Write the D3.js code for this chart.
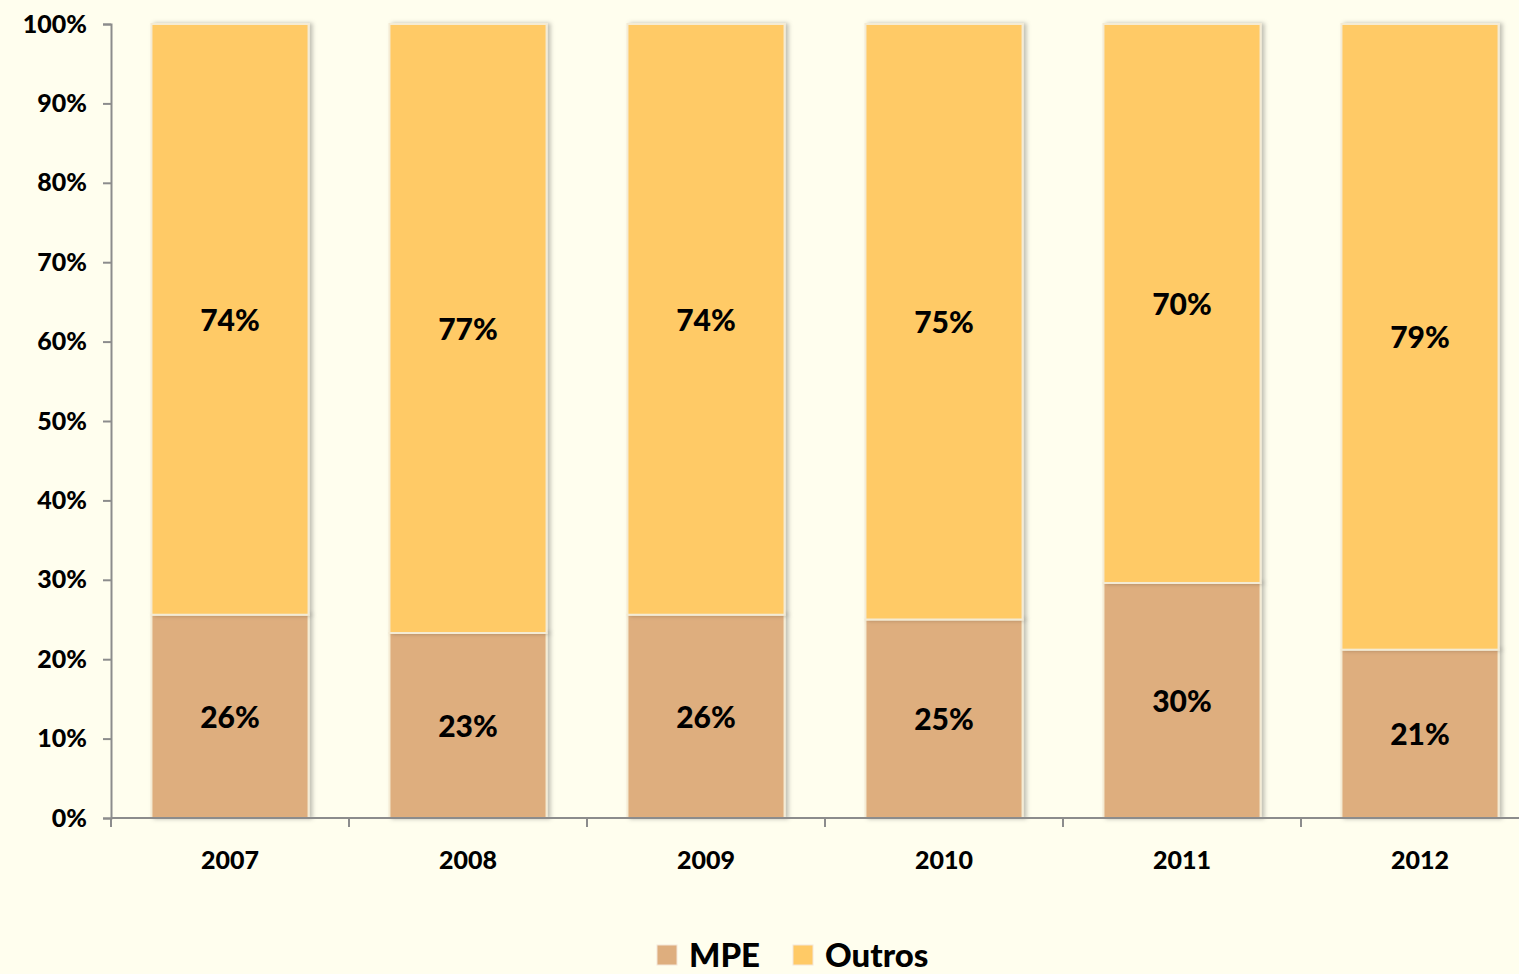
<!DOCTYPE html>
<html><head><meta charset="utf-8">
<script src="https://cdn.jsdelivr.net/npm/d3@7"></script>
<style>
html,body{margin:0;padding:0;background:#FFFEEE;overflow:hidden;}
svg{display:block;font-family:Lato,"Open Sans",sans-serif;font-weight:900;}
</style></head><body>
<svg id="c" width="1519" height="974"></svg>
<script>
const years = ["2007","2008","2009","2010","2011","2012"];
const mpe = [25.6, 23.3, 25.6, 25.0, 29.6, 21.2];
const outros = [74.4, 76.7, 74.4, 75.0, 70.4, 78.8];
const seriesNames = ["MPE","Outros"];
const colors = ["#DEAE7E","#FFCA66"];
const yTicks = [0,10,20,30,40,50,60,70,80,90,100];

(function(){
const svg = d3.select("#c");
const mLeft = 111, mRight = 1539, mTop = 24, mBottom = 818;
const x = d3.scaleBand().domain(years).range([mLeft, mRight]).paddingInner(0.34).paddingOuter(0.17);
const xb = d3.scaleBand().domain(years).range([mLeft, mRight]);
const y = d3.scaleLinear().domain([0,100]).range([mBottom, mTop]);

const rows = years.map((yr,i)=>({year:yr, MPE:mpe[i], Outros:outros[i]}));
const stacked = d3.stack().keys(seriesNames)(rows);

const defs = svg.append("defs");
const f = defs.append("filter").attr("id","sh").attr("x","-10%").attr("y","-5%").attr("width","130%").attr("height","115%");
f.append("feDropShadow").attr("dx",3).attr("dy",0).attr("stdDeviation",2).attr("flood-color","#000").attr("flood-opacity",0.25);

stacked.forEach((s,si)=>{
  const g = svg.append("g").attr("filter","url(#sh)");
  g.selectAll("rect").data(s).join("rect")
    .attr("x", d=>x(d.data.year))
    .attr("width", x.bandwidth())
    .attr("y", d=>y(d[1]))
    .attr("height", d=>y(d[0])-y(d[1]))
    .attr("fill", colors[si])
    .attr("stroke", "#F4EBD4")
    .attr("stroke-width", 2);
});
stacked.forEach((s,si)=>{
  svg.append("g").selectAll("text").data(s).join("text")
    .attr("x", d=>x(d.data.year)+x.bandwidth()/2)
    .attr("y", d=>(y(d[0])+y(d[1]))/2)
    .attr("dy","0.38em")
    .attr("text-anchor","middle")
    .attr("font-size",30)
    .attr("fill","#000")
    .text(d=>d3.format(".0f")(d[1]-d[0])+"%");
});

const yAxis = d3.axisLeft(y).tickValues(yTicks).tickFormat(d=>d+"%").tickSize(8).tickPadding(16);
const ya = svg.append("g").attr("transform",`translate(${mLeft},0)`).call(yAxis);
ya.select(".domain").attr("stroke","#8C8C8C").attr("stroke-width",2);
ya.selectAll(".tick line").attr("stroke","#8C8C8C").attr("stroke-width",2);
ya.selectAll(".tick text").attr("font-size",25).attr("font-family","Lato,sans-serif").attr("font-weight",900).attr("fill","#000");

const xAxis = d3.axisBottom(xb).tickSize(0).tickPadding(33);
const xa = svg.append("g").attr("transform",`translate(0,${mBottom})`).call(xAxis);
xa.select(".domain").attr("stroke","#8C8C8C").attr("stroke-width",2).attr("d",`M${mLeft},0H${mRight}`);
xa.selectAll(".tick text").attr("font-size",25).attr("font-family","Lato,sans-serif").attr("font-weight",900).attr("fill","#000");
xa.selectAll("line.bt").data(years).join("line").attr("class","bt")
  .attr("x1",d=>xb(d)).attr("x2",d=>xb(d)).attr("y1",0).attr("y2",9)
  .attr("stroke","#8C8C8C").attr("stroke-width",2);

const legX = [657, 793];
const lg = svg.append("g");
seriesNames.forEach((n,i)=>{
  lg.append("rect").attr("x",legX[i]).attr("y",945).attr("width",20).attr("height",20)
    .attr("fill",colors[i]).attr("stroke","#F4E6D8").attr("stroke-width",1);
  lg.append("text").attr("x",legX[i]+32).attr("y",967).attr("font-size",33)
    .attr("fill","#000").text(n);
});
})();
</script>
</body></html>
